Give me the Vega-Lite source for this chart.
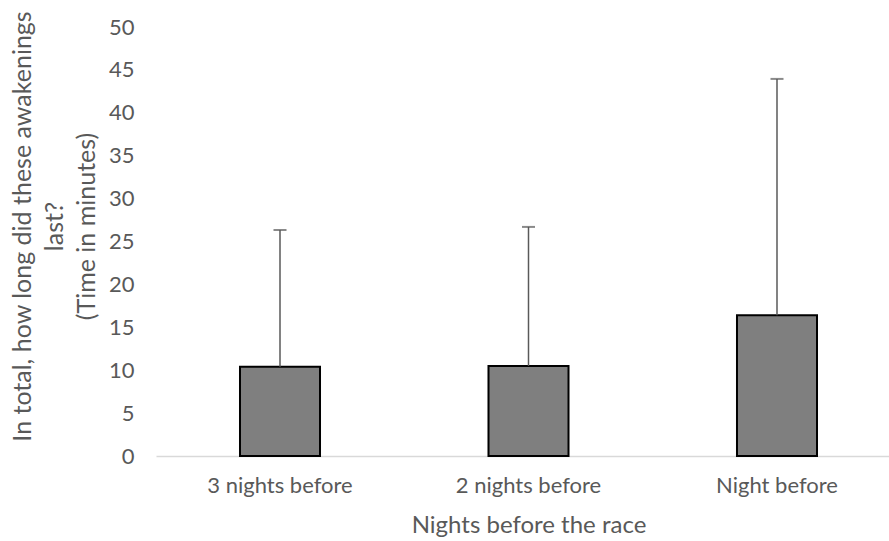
{
  "$schema": "https://vega.github.io/schema/vega-lite/v6.json",
  "width": 733,
  "height": 429,
  "autosize": {"type": "none"},
  "padding": {"left": 156, "top": 27, "right": 0, "bottom": 85},
  "background": "white",
  "config": {
    "view": {"stroke": null},
    "font": "Lato",
    "axis": {"labelFont": "Lato", "titleFont": "Lato", "labelColor": "#595959", "titleColor": "#595959", "titleFontWeight": "normal"}
  },
  "data": {
    "values": [
      {"night": "3 nights before", "mean": 10.4, "upper": 26.35},
      {"night": "2 nights before", "mean": 10.5, "upper": 26.7},
      {"night": "Night before", "mean": 16.4, "upper": 43.95}
    ]
  },
  "encoding": {
    "x": {
      "field": "night",
      "type": "nominal",
      "sort": null,
      "scale": {"range": [0, 745], "paddingInner": 0.678, "paddingOuter": 0.338},
      "axis": {
        "title": "Nights before the race",
        "labelAngle": 0,
        "labelFontSize": 22,
        "titleFontSize": 24,
        "ticks": false,
        "domainColor": "#d9d9d9",
        "domainWidth": 1.5,
        "labelPadding": 19,
        "titlePadding": 17
      }
    }
  },
  "layer": [
    {
      "mark": {"type": "bar", "color": "#7f7f7f", "stroke": "#000000", "strokeWidth": 2},
      "encoding": {
        "y": {
          "field": "mean",
          "type": "quantitative",
          "scale": {"domain": [0, 50]},
          "axis": {
            "title": ["In total, how long did these awakenings", "last?", "(Time in minutes)"],
            "titleFontSize": 25,
            "titleLineHeight": 32,
            "titlePadding": 9,
            "titleY": 199,
            "values": [0, 5, 10, 15, 20, 25, 30, 35, 40, 45, 50],
            "labelFontSize": 22,
            "labelPadding": 22,
            "ticks": false,
            "domain": false,
            "grid": false
          }
        }
      }
    },
    {
      "mark": {"type": "rule", "color": "#595959", "strokeWidth": 1.5},
      "encoding": {
        "y": {"field": "mean", "type": "quantitative"},
        "y2": {"field": "upper"}
      }
    },
    {
      "mark": {"type": "tick", "color": "#595959", "thickness": 2, "size": 13, "orient": "horizontal"},
      "encoding": {
        "y": {"field": "upper", "type": "quantitative"}
      }
    }
  ]
}
